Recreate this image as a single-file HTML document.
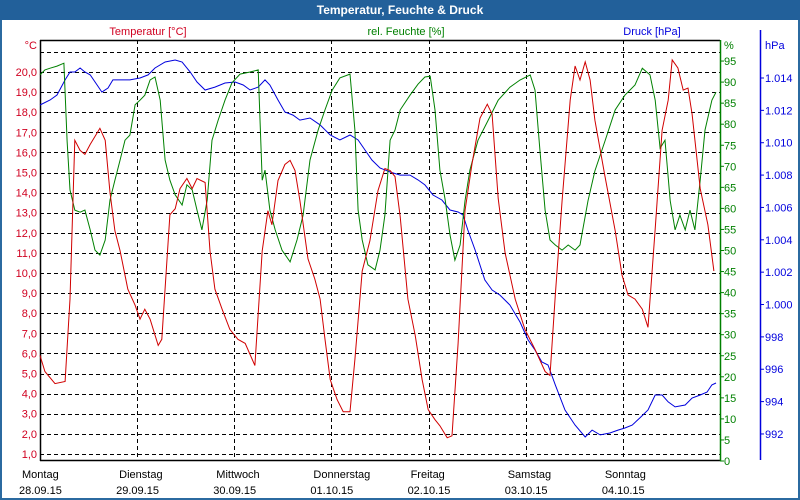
<!DOCTYPE html>
<html><head><meta charset="utf-8"><style>
html,body{margin:0;padding:0;background:#fff;}
#win{position:relative;width:800px;height:500px;overflow:hidden;font-family:"Liberation Sans",sans-serif;}
</style></head><body>
<div id="win">
<svg id="chart" width="800" height="500" xmlns="http://www.w3.org/2000/svg"></svg>
</div>
<script>
const days = ["Montag","Dienstag","Mittwoch","Donnerstag","Freitag","Samstag","Sonntag"];
const dates = ["28.09.15","29.09.15","30.09.15","01.10.15","02.10.15","03.10.15","04.10.15"];
const tempTicks = [1,2,3,4,5,6,7,8,9,10,11,12,13,14,15,16,17,18,19,20];
const humTicks = [0,5,10,15,20,25,30,35,40,45,50,55,60,65,70,75,80,85,90,95];
const presTicks = [992,994,996,998,1000,1002,1004,1006,1008,1010,1012,1014];
const tempHours = [0,1.2,3.7,6.2,7.4,8.6,9.9,11.1,12.4,14.8,16.1,17.3,18.5,19.8,21.7,23.5,24.7,25.9,27.2,29.2,30.1,32.1,33.4,34.6,36.3,37.6,38.8,40.8,42.0,43.2,45.0,46.9,48.9,50.7,53.1,54.9,56.3,57.3,58.8,60.5,61.8,63.0,64.2,66.2,67.9,69.2,70.4,71.7,73.4,74.9,76.6,77.8,79.6,81.5,83.5,85.2,86.5,87.7,89.0,90.9,92.7,94.4,95.9,97.6,98.8,100.6,101.8,103.3,105.0,106.7,108.7,110.5,111.7,113.2,114.9,117.4,119.8,122.3,124.8,126.0,127.3,129.0,131.0,132.2,133.4,134.7,135.9,137.1,139.6,142.1,143.8,145.3,147.0,148.8,150.2,152.0,153.7,155.2,156.2,157.6,158.9,160.1,161.1,163.1,165.0,166.5];
const tempValues = [5.9,5.1,4.5,4.6,8.7,16.6,16.1,15.9,16.4,17.2,16.6,14.0,12.1,11.1,9.2,8.4,7.7,8.2,7.7,6.4,6.7,12.9,13.2,14.2,14.7,14.2,14.7,14.5,11.1,9.2,8.2,7.2,6.7,6.5,5.4,11.1,13.1,12.4,14.6,15.4,15.6,15.1,13.6,10.7,9.7,8.7,6.7,4.7,3.7,3.1,3.1,5.7,10.1,11.6,14.1,15.2,15.1,14.8,12.8,8.7,6.9,4.7,3.2,2.7,2.4,1.8,1.9,6.5,13.1,15.4,17.7,18.4,17.9,13.7,11.0,8.7,7.2,6.2,5.1,4.9,8.9,13.6,18.6,20.3,19.6,20.5,19.6,17.6,14.8,12.1,9.9,8.9,8.7,8.2,7.3,12.2,17.1,18.6,20.6,20.2,19.1,19.2,17.9,14.2,12.4,10.1];
const humHours = [0,1.2,2.5,4.2,5.9,6.7,7.4,8.6,9.9,11.1,12.4,13.6,14.8,16.1,17.3,18.5,19.8,21.0,22.2,23.5,24.7,25.9,27.2,28.4,29.7,30.9,32.1,33.4,35.1,36.3,37.6,38.8,40.0,41.3,42.5,44.0,45.7,47.4,49.4,51.9,53.9,54.9,55.6,56.8,58.1,59.8,61.8,63.5,65.0,66.7,68.7,70.4,72.2,74.1,76.6,77.8,78.6,79.6,81.0,82.8,84.0,85.2,86.5,87.7,89.0,91.4,93.4,95.1,96.4,97.6,98.8,100.1,101.3,102.5,103.8,105.0,106.2,108.2,110.7,113.2,116.1,118.6,121.1,122.3,123.5,124.8,126.0,127.3,129.0,130.5,132.2,133.4,135.4,137.1,139.6,142.1,144.5,147.0,148.8,150.7,152.0,153.2,154.4,155.7,156.9,158.1,159.4,160.6,161.8,163.1,164.3,166.0,167.0];
const humValues = [91.7,92.9,93.3,93.8,94.5,76.0,64.4,59.6,59.1,59.6,54.9,50.1,48.9,52.5,62.0,66.7,71.5,76.2,77.4,84.6,85.7,86.9,90.5,91.2,85.7,71.5,66.7,63.2,60.8,65.6,64.4,59.6,54.9,62.0,76.2,80.9,85.7,89.8,91.9,92.4,92.9,66.7,69.1,59.6,54.9,50.1,47.3,52.5,58.4,71.5,78.6,83.4,88.1,91.0,91.9,78.6,59.6,52.5,46.6,45.4,50.1,58.4,76.2,78.6,83.4,86.9,89.5,91.2,91.4,83.4,69.1,62.0,53.7,47.7,51.3,61.8,69.1,76.2,80.9,85.7,88.8,90.5,91.7,88.1,73.9,59.6,52.5,51.3,50.1,51.3,50.1,51.3,61.8,68.9,76.0,83.4,86.9,89.3,93.3,91.7,85.7,74.3,76.2,61.8,54.9,58.4,54.9,59.6,54.9,66.7,78.6,85.7,87.6];
const presHours = [0,2.5,4.2,6.2,7.4,8.6,9.9,11.1,12.4,14.1,15.3,16.8,18.0,19.8,22.2,24.7,26.7,28.4,30.9,33.4,35.1,37.1,38.8,40.8,43.2,45.7,48.2,50.2,51.9,53.9,55.6,56.8,58.8,60.5,62.5,64.2,66.7,69.2,71.7,74.1,76.6,78.6,80.3,82.0,84.0,86.5,89.0,91.4,93.4,95.1,97.1,99.3,101.3,103.3,104.5,105.7,107.5,109.9,111.7,113.6,116.1,118.6,120.6,122.3,124.0,125.5,127.3,129.7,132.2,134.7,136.4,138.4,140.8,142.8,144.5,146.3,148.2,150.2,152.0,153.7,155.2,156.9,159.4,161.1,163.1,164.8,166.0,167.0];
const presValues = [1012.33,1012.64,1012.95,1013.88,1014.37,1014.37,1014.62,1014.37,1014.19,1013.57,1013.13,1013.38,1013.88,1013.88,1013.88,1014.0,1014.19,1014.62,1014.99,1015.11,1014.99,1014.37,1013.75,1013.26,1013.44,1013.69,1013.75,1013.57,1013.26,1013.44,1013.88,1013.57,1012.64,1011.90,1011.71,1011.40,1011.53,1011.10,1010.48,1010.17,1010.48,1010.17,1009.55,1008.93,1008.44,1008.19,1008.0,1008.0,1007.70,1007.39,1006.77,1006.46,1005.84,1005.72,1005.53,1004.61,1003.37,1001.52,1000.90,1000.59,999.97,998.92,997.81,997.19,996.45,996.26,995.03,993.48,992.55,991.81,992.24,991.94,992.06,992.24,992.37,992.55,992.99,993.48,994.41,994.41,993.98,993.67,993.79,994.22,994.41,994.59,995.03,995.15];

const NS = "http://www.w3.org/2000/svg";
const svg = document.getElementById("chart");
const L = 40, R = 720, T = 40, B = 460;
const xScale = h => L + h / 24 * ((R - L) / 7);
const yTemp = v => 474 - v * 20.1;
const yHum = v => 461 - v * 4.21;
const yPres = v => 78 + (1014 - v) * 16.18;
function mk(tag, attrs, parent) {
  const e = document.createElementNS(NS, tag);
  for (const k in attrs) e.setAttribute(k, attrs[k]);
  (parent || svg).appendChild(e);
  return e;
}
function txt(s, x, y, color, anchor, size, name, weight) {
  const t = mk("text", {x: x, y: y, fill: color, "text-anchor": anchor || "start", "font-size": size || 11, "font-family": "Liberation Sans, sans-serif"});
  if (weight) t.setAttribute("font-weight", weight);
  t.textContent = s;
  
  
  return t;
}
// window frame
let fr = mk("rect", {x: 1, y: 1, width: 798, height: 498, fill: "#fff", stroke: "#2b6aa0", "stroke-width": 2});


let tb = mk("rect", {x: 0, y: 0, width: 800, height: 20, fill: "#22609a"});


txt("Temperatur, Feuchte & Druck", 400, 14, "#fff", "middle", 12, "chart-title", "bold");
// horizontal grid
for (let v = 1; v <= 21; v++) {
  const y = Math.round(yTemp(v)) + 0.5;
  const g = mk("line", {x1: L, x2: R, y1: y, y2: y, stroke: "#000", "stroke-dasharray": "4,3"});
  
  
}
// vertical day lines
for (let d = 1; d < 7; d++) {
  const x = Math.round(xScale(d * 24)) + 0.5;
  const g = mk("line", {x1: x, x2: x, y1: T, y2: B, stroke: "#000", "stroke-dasharray": "4,3"});
  
  
}
// axes
let a1 = mk("line", {x1: L + 0.5, x2: L + 0.5, y1: T, y2: B + 1, stroke: "#000", "stroke-width": 1.5});


let a2 = mk("line", {x1: L, x2: R, y1: T + 0.5, y2: T + 0.5, stroke: "#000", "stroke-width": 1.5});


let a3 = mk("line", {x1: L, x2: R, y1: B + 0.5, y2: B + 0.5, stroke: "#000", "stroke-width": 1.5});


let a4 = mk("line", {x1: R + 0.5, x2: R + 0.5, y1: T, y2: B + 1, stroke: "#008000", "stroke-width": 1.5});


let a5 = mk("line", {x1: 760.5, x2: 760.5, y1: 30, y2: B, stroke: "#0000dd", "stroke-width": 1.5});


// tick labels
tempTicks.forEach(v => {
  txt(v.toFixed(1).replace(".", ","), 37, yTemp(v) + 4, "#d00020", "end", 11, "temp-tick-label");
});
humTicks.forEach(v => {
  const y = yHum(v);
  const t = mk("line", {x1: R, x2: R + 4, y1: y, y2: y, stroke: "#008000"});
  
  
  txt(String(v), 724, y + 4, "#008000", "start", 11, "humidity-tick-label");
});
presTicks.forEach(v => {
  const y = yPres(v);
  const t = mk("line", {x1: 760, x2: 764, y1: y, y2: y, stroke: "#0000dd"});
  
  
  const s = v >= 1000 ? "1." + String(v).slice(1) : String(v);
  txt(s, 765, y + 4, "#0000dd", "start", 11, "pressure-tick-label");
});
txt("°C", 37, 49, "#d00020", "end", 11, "temp-unit");
txt("%", 724, 49, "#008000", "start", 11, "humidity-unit");
txt("hPa", 765, 49, "#0000dd", "start", 11, "pressure-unit");
txt("Temperatur [°C]", 148, 35, "#d00020", "middle", 11, "temp-axis-title");
txt("rel. Feuchte [%]", 406, 35, "#008000", "middle", 11, "humidity-axis-title");
txt("Druck [hPa]", 652, 35, "#0000dd", "middle", 11, "pressure-axis-title");
days.forEach((d, i) => {
  const x = xScale(i * 24);
  txt(d, x - 18, 478, "#000", "start", 11, "day-label");
  txt(dates[i], x - 21, 494, "#000", "start", 11, "date-label");
});
function series(hours, vals, yf, color, name) {
  const pts = hours.map((h, i) => xScale(h).toFixed(1) + "," + yf(vals[i]).toFixed(1)).join(" ");
  const p = mk("polyline", {points: pts, fill: "none", stroke: color, "stroke-width": 1});
  
  
}
series(presHours, presValues, yPres, "#0000dd", "pressure-line");
series(humHours, humValues, yHum, "#008000", "humidity-line");
series(tempHours, tempValues, yTemp, "#d00000", "temperature-line");
</script>
</body></html>
